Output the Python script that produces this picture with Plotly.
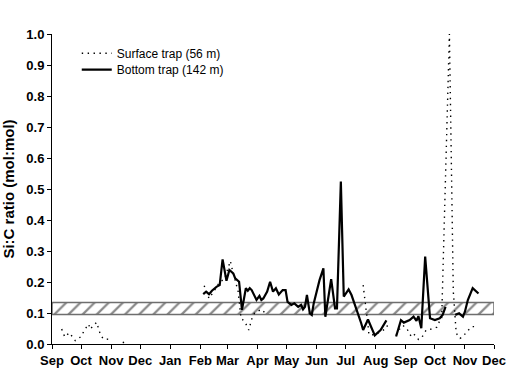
import plotly.graph_objects as go

# ---------------- data ----------------
surface_dates = [
    "1996-09-11", "1996-09-14", "1996-09-16", "1996-09-18", "1996-09-20", "1996-09-25",
    "1996-10-01", "1996-10-05", "1996-10-09", "1996-10-10", "1996-10-13", "1996-10-17",
    "1996-10-21", "1996-10-24", "1996-11-01", None,
    "1996-11-13", "1996-11-16", None,
    "1997-02-05", "1997-02-10", "1997-02-15", "1997-02-21", "1997-02-26", "1997-03-04",
    "1997-03-06", "1997-03-12", "1997-03-15", "1997-03-19", "1997-03-23", "1997-03-26",
    "1997-03-29", "1997-04-05", "1997-04-09", None,
    "1997-07-19", "1997-07-21", "1997-07-24", "1997-07-25", "1997-07-31", "1997-08-12",
    "1997-08-13", None,
    "1997-08-22", "1997-08-26", "1997-08-29", "1997-09-02", "1997-09-07", "1997-09-10",
    "1997-09-14", "1997-09-17", "1997-09-22", "1997-09-26", "1997-10-03", "1997-10-06",
    "1997-10-08", "1997-10-16", "1997-10-20", "1997-10-23", "1997-10-27", "1997-10-30",
    "1997-11-03", "1997-11-08", "1997-11-13",
]
surface_ratio = [
    0.048, 0.024, 0.024, 0.036, 0.032, 0.011,
    0.024, 0.048, 0.064, 0.048, 0.056, 0.070,
    0.030, 0.016, 0.015, None,
    0.004, 0.008, None,
    0.188, 0.147, 0.170, 0.200, 0.210, 0.268,
    0.240, 0.170, 0.083, 0.072, 0.045, 0.080,
    0.100, 0.112, 0.100, None,
    0.190, 0.145, 0.060, 0.030, 0.030, 0.050,
    0.060, None,
    0.030, 0.050, 0.060, 0.050, 0.022, 0.030,
    0.015, 0.018, 0.045, 0.047, 0.054, 0.075,
    0.080, 1.000, 0.170, 0.035, 0.018, 0.024,
    0.040, 0.056, 0.056,
]

bottom_dates = [
    "1997-02-04", "1997-02-07", "1997-02-10", "1997-02-13", "1997-02-18", "1997-02-21",
    "1997-02-24", "1997-02-28", "1997-03-03", "1997-03-07", "1997-03-09", "1997-03-13",
    "1997-03-16", "1997-03-20", "1997-03-22", "1997-03-24", "1997-03-26", "1997-03-29",
    "1997-03-31", "1997-04-03", "1997-04-05", "1997-04-07", "1997-04-11", "1997-04-14",
    "1997-04-17", "1997-04-20", "1997-04-23", "1997-04-27", "1997-04-30", "1997-05-02",
    "1997-05-06", "1997-05-09", "1997-05-13", "1997-05-16", "1997-05-18", "1997-05-20",
    "1997-05-22", "1997-05-25", "1997-05-27", "1997-05-29", "1997-06-04", "1997-06-08",
    "1997-06-10", "1997-06-16", "1997-06-20", "1997-06-22", "1997-06-26", "1997-06-29",
    "1997-07-02", "1997-07-04", "1997-07-07", "1997-07-10", "1997-07-14", "1997-07-17",
    "1997-07-19", "1997-07-24", "1997-07-31", "1997-08-06", "1997-08-12", None,
    "1997-08-22", "1997-08-27", "1997-08-30", "1997-09-05", "1997-09-09", "1997-09-12",
    "1997-09-14", "1997-09-17", "1997-09-21", "1997-09-26", "1997-10-01", "1997-10-06",
    "1997-10-09", "1997-10-12", None,
    "1997-10-22", "1997-10-26", "1997-10-30", "1997-11-01", "1997-11-04", "1997-11-09",
    "1997-11-15",
]
bottom_ratio = [
    0.161, 0.169, 0.161, 0.172, 0.185, 0.190,
    0.273, 0.204, 0.239, 0.228, 0.212, 0.201,
    0.110, 0.180, 0.172, 0.180, 0.174, 0.153,
    0.142, 0.155, 0.142, 0.147, 0.169, 0.201,
    0.169, 0.180, 0.160, 0.174, 0.174, 0.136,
    0.126, 0.131, 0.120, 0.126, 0.112, 0.120,
    0.158, 0.099, 0.094, 0.131, 0.206, 0.244,
    0.088, 0.209, 0.115, 0.115, 0.524, 0.153,
    0.165, 0.176, 0.158, 0.131, 0.099, 0.067,
    0.045, 0.079, 0.028, 0.045, 0.076, None,
    0.024, 0.077, 0.069, 0.077, 0.088, 0.075,
    0.090, 0.051, 0.282, 0.083, 0.077, 0.083,
    0.094, 0.120, None,
    0.094, 0.099, 0.088, 0.104, 0.142, 0.180,
    0.163,
]

# typical diatom Si:C range (hatched band)
band_low = 0.095
band_high = 0.134

month_starts = [
    "1996-09-01", "1996-10-01", "1996-11-01", "1996-12-01", "1997-01-01", "1997-02-01",
    "1997-03-01", "1997-04-01", "1997-05-01", "1997-06-01", "1997-07-01", "1997-08-01",
    "1997-09-01", "1997-10-01", "1997-11-01", "1997-12-01",
]
month_labels = ["Sep", "Oct", "Nov", "Dec", "Jan", "Feb", "Mar", "Apr", "May", "Jun",
                "Jul", "Aug", "Sep", "Oct", "Nov", "Dec"]
y_ticks = [0.0, 0.1, 0.2, 0.3, 0.4, 0.5, 0.6, 0.7, 0.8, 0.9, 1.0]

FONT = "Liberation Sans, Arial, sans-serif"

fig = go.Figure()

x0, x1 = month_starts[0], month_starts[-1]
fig.add_trace(go.Scatter(
    x=[x0, x1, x1, x0, x0],
    y=[band_low, band_low, band_high, band_high, band_low],
    mode="lines", fill="toself",
    fillcolor="white",
    fillpattern=dict(shape="/", fgcolor="#111111", bgcolor="white", size=10, solidity=0.22),
    line=dict(color="#6e6e6e", width=1.5),
    showlegend=False, hoverinfo="skip",
))

fig.add_trace(go.Scatter(
    x=surface_dates, y=surface_ratio, mode="lines", name="Surface trap (56 m)",
    line=dict(color="black", width=1.4, dash="1.4px,4.5px"),
    connectgaps=False, legend="legend",
))
fig.add_trace(go.Scatter(
    x=bottom_dates, y=bottom_ratio, mode="lines", name="Bottom trap (142 m)",
    line=dict(color="black", width=2.2),
    connectgaps=False, legend="legend2",
))

legend_common = dict(
    font=dict(family=FONT, size=12, color="black"),
    bgcolor="rgba(0,0,0,0)", borderwidth=0,
    xanchor="left", yanchor="middle", x=0.056,
)

fig.update_layout(
    width=507, height=376,
    margin=dict(l=52, r=13, t=34, b=32),
    paper_bgcolor="white", plot_bgcolor="white",
    font=dict(family=FONT, color="black"),
    legend=dict(**legend_common, y=0.938),
    legend2=dict(**legend_common, y=0.885),
    xaxis=dict(
        type="date", range=[x0, x1], automargin=False,
        tickmode="array", tickvals=month_starts, ticktext=month_labels,
        ticks="outside", ticklen=4, tickwidth=1, tickcolor="black",
        showline=True, linecolor="black", linewidth=1,
        showgrid=False, zeroline=False,
        tickfont=dict(family=FONT, size=13, color="black", weight="bold"),
    ),
    yaxis=dict(
        range=[0, 1], tickmode="array", tickvals=y_ticks, automargin=False,
        ticktext=[f"{v:.1f}" for v in y_ticks],
        ticks="outside", ticklen=4, tickwidth=1, tickcolor="black",
        showline=True, linecolor="black", linewidth=1,
        showgrid=False, zeroline=False,
        tickfont=dict(family=FONT, size=13, color="black", weight="bold"),
        title=dict(text="Si:C ratio (mol:mol)", standoff=10,
                   font=dict(family=FONT, size=15, color="black", weight="bold")),
    ),
)

fig.write_html("out.html")
